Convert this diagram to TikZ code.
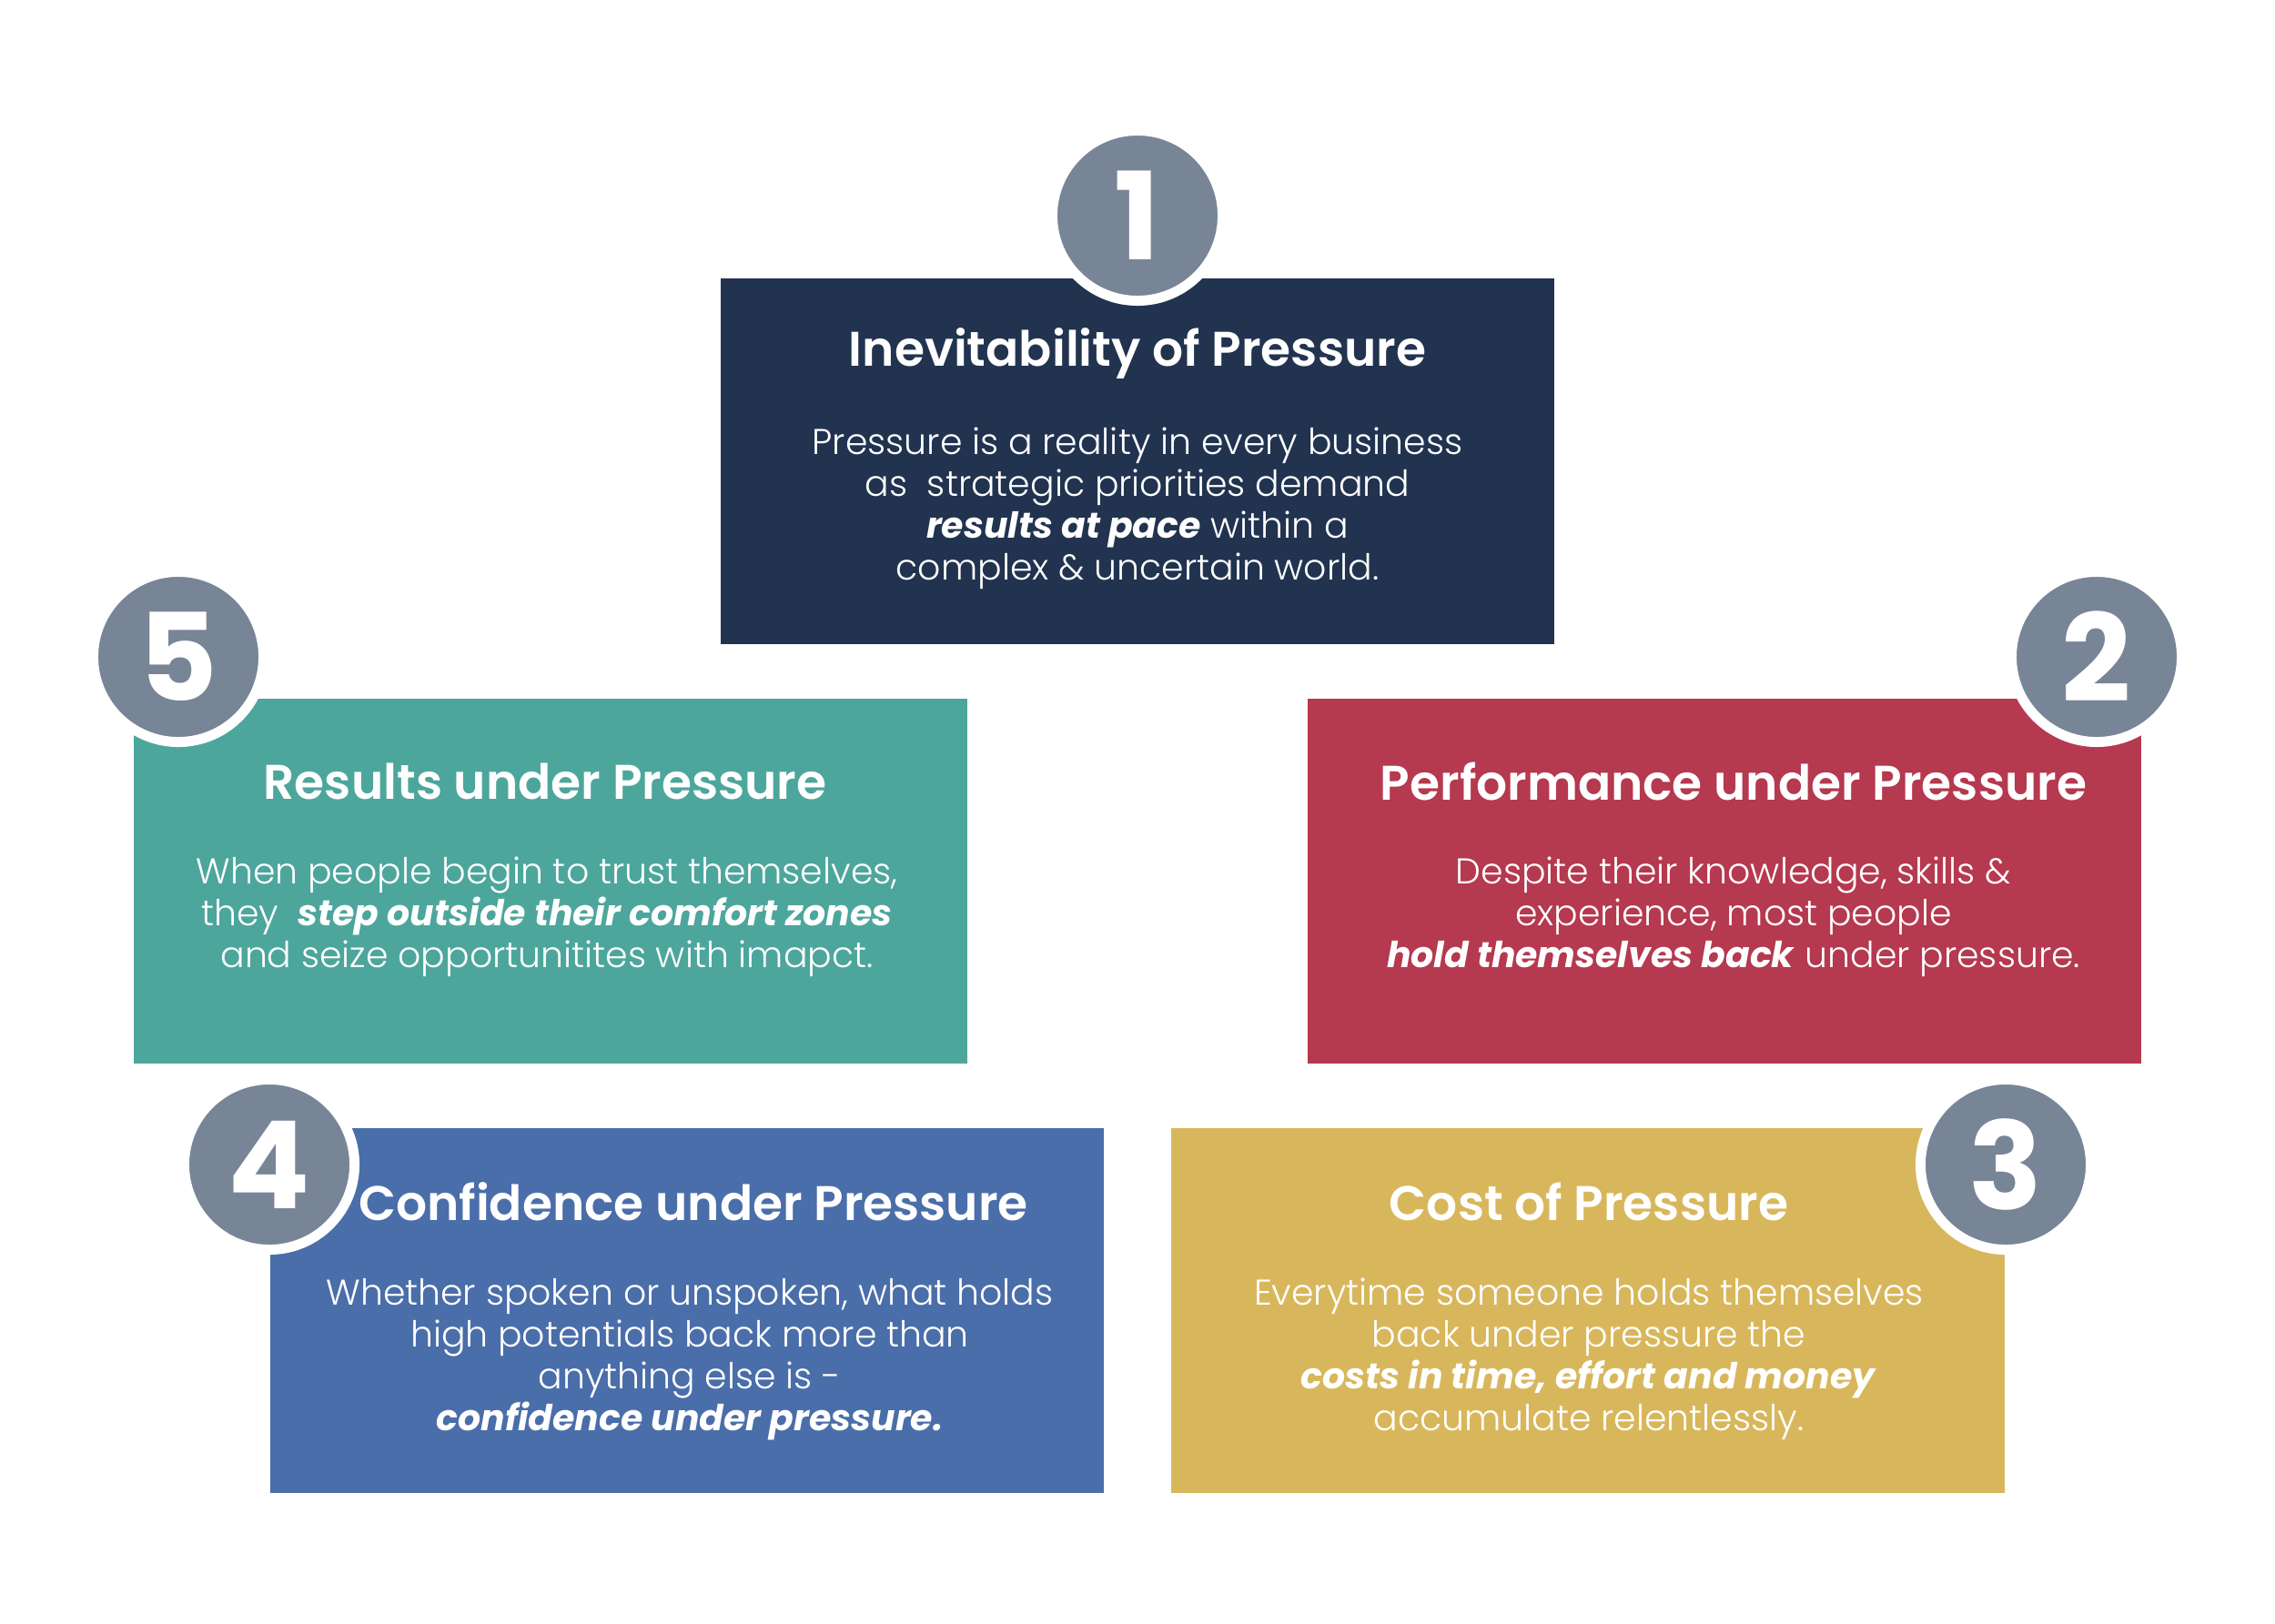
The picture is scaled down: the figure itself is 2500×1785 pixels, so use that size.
\documentclass[tikz,border=0pt]{standalone}
\usepackage{fontspec}
\setmainfont{Poppins}[UprightFont={* Light}, ItalicFont={* Light Italic},
    BoldFont={* Bold}, BoldItalicFont={* Bold Italic}]
\newfontfamily\headfont{Poppins}[UprightFont={* SemiBold}]
\definecolor{navy}{HTML}{21334F}
\definecolor{teal}{HTML}{4DA69C}
\definecolor{crimson}{HTML}{B5394F}
\definecolor{steel}{HTML}{4A6EA9}
\definecolor{mustard}{HTML}{D8B75C}
\definecolor{slate}{HTML}{788597}
\newcommand{\bi}[1]{\textbf{\textit{#1}}}

\begin{document}
\begin{tikzpicture}[x=0.01cm, y=-0.01cm,
    panel/.style={rectangle, inner sep=0pt, minimum width=9.16cm, minimum height=4.01cm},
    badge/.style={circle, fill=slate, draw=white, line width=0.11cm, minimum size=1.87cm, inner sep=0pt,
        text=white, font=\fontsize{38}{38}\selectfont\bfseries},
    heading/.style={text=white, font=\fontsize{15.2}{18}\selectfont\headfont},
    blurb/.style={text=white, align=center, font=\fontsize{11.2}{13.1}\selectfont}]
    \useasboundingbox[fill=white] (0,0) rectangle (2500,1785);

    % the five panels
    \node[panel, fill=navy] (p1) at (1250,507) {};
    \node[panel, fill=teal] (p5) at (605,968.5) {};
    \node[panel, fill=crimson] (p2) at (1895,968.5) {};
    \node[panel, fill=steel] (p4) at (755,1440.5) {};
    \node[panel, fill=mustard] (p3) at (1745,1440.5) {};

    % numbered badges
    \node[badge] (n1) at (1250,237) {1};
    \node[badge] (n5) at (196,722) {5};
    \node[badge] (n2) at (2304,722) {2};
    \node[badge] (n4) at (296,1280) {4};
    \node[badge] (n3) at (2204,1280) {3};

    % titles and texts
    \node[heading] (t1) at (1250,389) {Inevitability of Pressure};
    \node[blurb] (d1) at (1250,559) {Pressure is a reality in every business\\
        as~ strategic priorities demand\\ \bi{results at pace} within a\\ complex \& uncertain world.};

    \node[heading] (t5) at (599,859) {Results under Pressure};
    \node[blurb] (d5) at (601,1008) {When people begin to trust themselves,\\
        they~ \bi{step outside their comfort zones}\\ and seize opportunitites with imapct.};

    \node[heading] (t2) at (1905,859) {Performance under Pressure};
    \node[blurb] (d2) at (1905,1008) {Despite their knowledge, skills \&\\
        experience, most people\\ \bi{hold themselves back} under pressure.};

    \node[heading] (t4) at (762,1321) {Confidence under Pressure};
    \node[blurb] (d4) at (758,1494) {Whether spoken or unspoken, what holds\\
        high potentials back more than\\ anything else is -\\ \bi{confidence under pressure.}};

    \node[heading] (t3) at (1746,1321) {Cost of Pressure};
    \node[blurb] (d3) at (1746,1494) {Everytime someone holds themselves\\
        back under pressure the\\ \bi{costs in time, effort and money}\\ accumulate relentlessly.};
\end{tikzpicture}
\end{document}
